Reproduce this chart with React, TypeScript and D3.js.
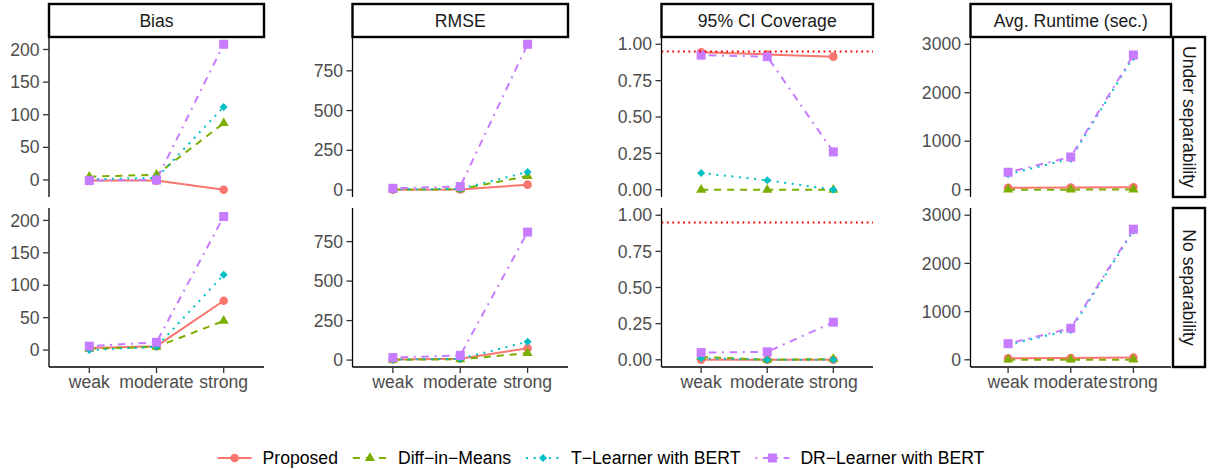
import React from "react";
import * as d3 from "d3";

// ---------- data ----------
const conditions = ["weak", "moderate", "strong"];
const metrics = ["Bias", "RMSE", "95% CI Coverage", "Avg. Runtime (sec.)"];
const settings = ["Under separability", "No separability"];
const methods = ["Proposed", "Diff\u2212in\u2212Means", "T\u2212Learner with BERT", "DR\u2212Learner with BERT"];

// rows: Proposed, Diff-in-Means, T-Learner, DR-Learner ; cols: weak, moderate, strong
const biasUnder = [[-1, -1, -15], [5, 8, 87], [1, 3, 112], [-1, 0, 208]];
const biasNo = [[3, 6, 76], [2, 5, 45], [0, 5, 116], [6, 12, 206]];
const rmseUnder = [[2, 3, 34], [3, 5, 88], [4, 7, 114], [11, 22, 917]];
const rmseNo = [[4, 8, 75], [2, 5, 44], [3, 8, 116], [16, 30, 810]];
const coverageUnder = [[0.945, 0.93, 0.915], [0, 0, 0], [0.115, 0.065, 0.0], [0.925, 0.915, 0.26]];
const coverageNo = [[0, 0, 0], [0.02, 0.0, 0.005], [0.01, 0, 0], [0.05, 0.055, 0.26]];
const runtimeUnder = [[40, 45, 50], [2, 2, 3], [320, 640, 2740], [360, 675, 2780]];
const runtimeNo = [[30, 35, 45], [2, 2, 3], [310, 620, 2680], [335, 655, 2710]];

const coverageTarget = 0.95;
const coverageLimits = [0, 1];
const runtimeLimits = [0, 3000];

const biasTicks = [0, 50, 100, 150, 200];
const rmseTicks = [0, 250, 500, 750];
const coverageTicks = [0, 0.25, 0.5, 0.75, 1.0];
const runtimeTicks = [0, 1000, 2000, 3000];

// ---------- styling / layout ----------
const W = 1209;
const H = 470;
const colors = ["#F8766D", "#7CAE00", "#00BFC4", "#C77CFF"];
const dashes = ["", "7,6", "2,5.6", "2,5.6,7.6,5.6"];
const shapes = ["circle", "triangle", "diamond", "square"];
const FONT = "'Liberation Sans', Arial, Helvetica, sans-serif";
const FS = 17.6;
const LW = 2;

const colX = [
  [49, 264],
  [352.5, 568],
  [661.5, 873],
  [970.5, 1171],
];
const rowY = [
  [37, 197],
  [208, 367],
];

const seriesByMetric = [
  [biasUnder, biasNo],
  [rmseUnder, rmseNo],
  [coverageUnder, coverageNo],
  [runtimeUnder, runtimeNo],
];
const ticksByMetric = [biasTicks, rmseTicks, coverageTicks, runtimeTicks];
const limitsByMetric: (number[] | null)[] = [null, null, coverageLimits, runtimeLimits];
const formatByMetric = [d3.format("d"), d3.format("d"), d3.format(".2f"), d3.format("d")];

function Marker({ shape, x, y, color }: { shape: string; x: number; y: number; color: string }) {
  if (shape === "circle") return <circle cx={x} cy={y} r={4.3} fill={color} />;
  if (shape === "square") return <rect x={x - 4.5} y={y - 4.5} width={9} height={9} fill={color} />;
  if (shape === "triangle") {
    const s = 5.8;
    return (
      <polygon
        points={`${x},${y - s} ${x + s * 0.87},${y + s * 0.5} ${x - s * 0.87},${y + s * 0.5}`}
        fill={color}
      />
    );
  }
  const d = 4;
  return <polygon points={`${x},${y - d} ${x + d},${y} ${x},${y + d} ${x - d},${y}`} fill={color} />;
}

function measure(text: string, size: number) {
  if (typeof document === "undefined") return text.length * size * 0.5;
  const c = document.createElement("canvas").getContext("2d");
  if (!c) return text.length * size * 0.5;
  c.font = `${size}px 'Liberation Sans', Arial, sans-serif`;
  return c.measureText(text).width;
}

export default function App() {
  const panels: React.ReactNode[] = [];

  metrics.forEach((metric, ci) => {
    const [x0, x1] = colX[ci];
    const x = d3.scalePoint<string>().domain(conditions).range([x0, x1]).padding(0.6);
    const all: number[] = [];
    seriesByMetric[ci].forEach((s) => s.forEach((r) => all.push(...r)));
    if (limitsByMetric[ci]) all.push(...(limitsByMetric[ci] as number[]));
    const [lo, hi] = d3.extent(all) as [number, number];
    const pad = (hi - lo) * 0.05;

    // top strip
    panels.push(
      <g key={`strip-${ci}`}>
        <rect x={x0} y={4} width={x1 - x0} height={33} fill="white" stroke="black" strokeWidth={2.4} />
        <text x={(x0 + x1) / 2} y={20.5} dy="0.35em" textAnchor="middle" fontSize={FS} fontFamily={FONT} fill="#1A1A1A">
          {metric}
        </text>
      </g>
    );

    settings.forEach((setting, ri) => {
      const [yTop, yBot] = rowY[ri];
      const y = d3.scaleLinear().domain([lo - pad, hi + pad]).range([yBot, yTop]);
      const data = seriesByMetric[ci][ri];
      const line = d3
        .line<number>()
        .x((_, i) => x(conditions[i]) as number)
        .y((v) => y(v));
      const clipId = `clip-${ci}-${ri}`;
      panels.push(
        <g key={`panel-${ci}-${ri}`}>
          <defs>
            <clipPath id={clipId}>
              <rect x={x0} y={yTop} width={x1 - x0} height={yBot - yTop} />
            </clipPath>
          </defs>
          <g clipPath={`url(#${clipId})`}>
            {data.map((vals, mi) => (
              <path
                key={`l-${mi}`}
                d={line(vals) || ""}
                fill="none"
                stroke={colors[mi]}
                strokeWidth={LW}
                strokeDasharray={dashes[mi] || undefined}
              />
            ))}
            {data.map((vals, mi) =>
              vals.map((v, i) => (
                <Marker key={`p-${mi}-${i}`} shape={shapes[mi]} x={x(conditions[i]) as number} y={y(v)} color={colors[mi]} />
              ))
            )}
            {ci === 2 && (
              <line
                x1={x0}
                x2={x1}
                y1={y(coverageTarget)}
                y2={y(coverageTarget)}
                stroke="#FF0000"
                strokeWidth={2}
                strokeDasharray="1.8,3.6"
              />
            )}
          </g>
          {/* y axis */}
          <line x1={x0} x2={x0} y1={yTop} y2={yBot} stroke="black" strokeWidth={1.3} />
          {ticksByMetric[ci].map((t) => (
            <g key={`yt-${t}`}>
              <line x1={x0 - 6} x2={x0} y1={y(t)} y2={y(t)} stroke="#333333" strokeWidth={1.3} />
              <text
                x={x0 - 9.5}
                y={y(t)}
                dy="0.35em"
                textAnchor="end"
                fontSize={FS}
                fontFamily={FONT}
                fill="#4D4D4D"
              >
                {formatByMetric[ci](t)}
              </text>
            </g>
          ))}
          {ri === 1 && (
            <g>
              <line x1={x0} x2={x1} y1={yBot} y2={yBot} stroke="black" strokeWidth={1.3} />
              {conditions.map((c) => (
                <g key={`xt-${c}`}>
                  <line x1={x(c)} x2={x(c)} y1={yBot} y2={yBot + 6} stroke="#333333" strokeWidth={1.3} />
                  <text x={x(c)} y={yBot + 21} textAnchor="middle" fontSize={FS} fontFamily={FONT} fill="#4D4D4D">
                    {c}
                  </text>
                </g>
              ))}
            </g>
          )}
          {ci === metrics.length - 1 && (
            <g>
              <rect x={1173} y={yTop} width={32} height={yBot - yTop} fill="white" stroke="black" strokeWidth={2.4} />
              <text
                transform={`translate(${1189},${(yTop + yBot) / 2}) rotate(90)`}
                dy="0.35em"
                textAnchor="middle"
                fontSize={FS}
                fontFamily={FONT}
                fill="#1A1A1A"
              >
                {setting}
              </text>
            </g>
          )}
        </g>
      );
    });
  });

  // legend
  const keyW = 34;
  const keyGap = 11;
  const itemGap = 15;
  const widths = methods.map((m) => measure(m, FS));
  const total = widths.reduce((a, b) => a + b, 0) + methods.length * (keyW + keyGap) + (methods.length - 1) * itemGap;
  let lx = 601 - total / 2;
  const ly = 458;
  const legendItems = methods.map((m, mi) => {
    const start = lx;
    lx += keyW + keyGap + widths[mi] + itemGap;
    return (
      <g key={`leg-${mi}`}>
        <line
          x1={start}
          x2={start + keyW}
          y1={ly}
          y2={ly}
          stroke={colors[mi]}
          strokeWidth={LW}
          strokeDasharray={dashes[mi] || undefined}
        />
        <Marker shape={shapes[mi]} x={start + keyW / 2} y={ly} color={colors[mi]} />
        <text x={start + keyW + keyGap} y={ly} dy="0.35em" fontSize={FS} fontFamily={FONT} fill="black">
          {m}
        </text>
      </g>
    );
  });

  return (
    <svg
      width={W}
      height={H}
      viewBox={`0 0 ${W} ${H}`}
      style={{ position: "absolute", left: 0, top: 0, background: "white" }}
    >
      <rect x={0} y={0} width={W} height={H} fill="white" />
      {panels}
      {legendItems}
    </svg>
  );
}
